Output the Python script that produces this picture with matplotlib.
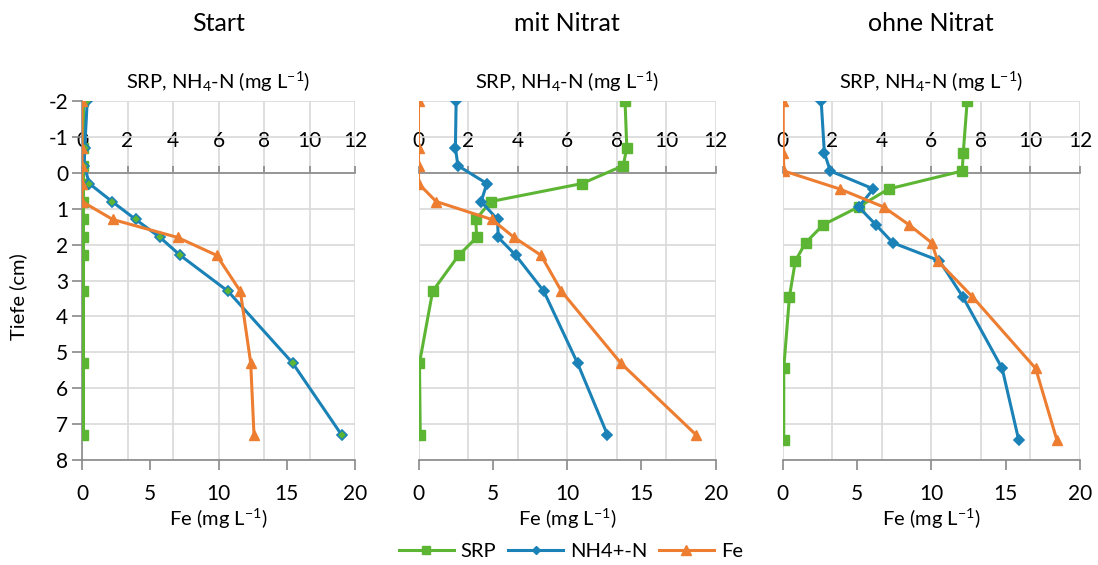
import numpy as np
import matplotlib.pyplot as plt
from matplotlib.lines import Line2D

plt.rcParams['font.family'] = ['Lato', 'DejaVu Sans']
plt.rcParams['mathtext.default'] = 'regular'
plt.rcParams['axes.unicode_minus'] = False

# Depths (cm) per panel
depth_start = [-2, -0.7, -0.2, 0.3, 0.8, 1.3, 1.8, 2.3, 3.3, 5.3, 7.3]
depth_mit = [-2, -0.7, -0.2, 0.3, 0.8, 1.3, 1.8, 2.3, 3.3, 5.3, 7.3]
depth_ohne = [-2, -0.55, -0.05, 0.45, 0.95, 1.45, 1.95, 2.45, 3.45, 5.45, 7.45]

# Start
srp_start = [0.05, 0.05, 0.05, 0.05, 0.05, 0.05, 0.05, 0.05, 0.05, 0.05, 0.05]
nh4_start = [0.23, 0.12, 0.1, 0.32, 1.32, 2.36, 3.43, 4.32, 6.42, 9.26, 11.41]
fe_start = [0.0, 0.0, 0.0, 0.0, 0.0, 2.25, 7.0, 9.87, 11.6, 12.36, 12.6]

# mit Nitrat
srp_mit = [8.34, 8.41, 8.27, 6.6, 2.92, 2.31, 2.35, 1.62, 0.57, 0.04, 0.07]
nh4_mit = [1.52, 1.49, 1.59, 2.76, 2.53, 3.19, 3.22, 3.93, 5.06, 6.42, 7.63]
fe_mit = [0.0, 0.0, 0.0, 0.0, 1.19, 4.93, 6.44, 8.25, 9.62, 13.61, 18.68]

# ohne Nitrat
srp_ohne = [7.45, 7.29, 7.25, 4.28, 3.07, 1.64, 0.93, 0.52, 0.28, 0.05, 0.05]
nh4_ohne = [1.56, 1.69, 1.93, 3.67, 3.07, 3.77, 4.45, 6.33, 7.27, 8.86, 9.53]
fe_ohne = [0.05, 0.05, 0.1, 3.84, 6.79, 8.51, 10.03, 10.43, 12.76, 17.02, 18.45]

titles = ["Start", "mit Nitrat", "ohne Nitrat"]
panels = [
    (depth_start, srp_start, nh4_start, fe_start),
    (depth_mit, srp_mit, nh4_mit, fe_mit),
    (depth_ohne, srp_ohne, nh4_ohne, fe_ohne),
]

c_srp = "#5DB534"
c_nh4 = "#1A82B6"
c_fe = "#ED7D31"
c_axis = "#898989"
c_grid = "#D9D9D9"

W, H = 1098, 565
fig = plt.figure(figsize=(W / 100, H / 100), dpi=100)

lefts = [82, 418.5, 782.5]
rights = [355, 715.7, 1080]
top_px, bot_px = 101, 460

for i, (d, srp, nh4, fe) in enumerate(panels):
    ax = fig.add_axes([lefts[i] / W, 1 - bot_px / H,
                       (rights[i] - lefts[i]) / W, (bot_px - top_px) / H])
    ax2 = ax.twiny()  # Fe axis (bottom)

    ax.set_xlim(0, 12)
    ax.set_ylim(8, -2)
    ax.set_xticks(np.arange(0, 13, 2))
    ax.set_yticks(np.arange(-2, 9, 1))
    ax.grid(True, color=c_grid, linewidth=1.2)
    ax.set_axisbelow(True)

    # top axis sits at depth 0
    ax.xaxis.set_ticks_position('top')
    ax.xaxis.set_label_position('top')
    ax.spines['top'].set_position(('data', 0))
    ax.spines['top'].set_color(c_axis)
    ax.spines['top'].set_linewidth(1.2)
    for s in ['bottom', 'right']:
        ax.spines[s].set_visible(False)
    ax.tick_params(axis='x', direction='out', length=5, width=1.2,
                   color=c_axis, pad=11, labelsize=15)

    if i == 0:
        ax.spines['left'].set_color(c_axis)
        ax.spines['left'].set_linewidth(1.2)
        ax.tick_params(axis='y', direction='out', length=7, width=1.2,
                       color=c_axis, pad=3, labelsize=15)
    else:
        ax.spines['left'].set_visible(False)
        ax.tick_params(axis='y', length=0, labelleft=False)

    nh4_face = c_srp if i == 0 else c_nh4
    ax.plot(srp, d, color=c_srp, lw=2.2, marker='s', ms=7, zorder=3)
    ax.plot(nh4, d, color=c_nh4, lw=2.2, marker='D', ms=5.5,
            mfc=nh4_face, mec=c_nh4, mew=1.2, zorder=4)

    ax2.set_xlim(0, 20)
    ax2.set_xticks(np.arange(0, 21, 5))
    ax2.xaxis.set_ticks_position('bottom')
    ax2.xaxis.set_label_position('bottom')
    for s in ['top', 'left', 'right']:
        ax2.spines[s].set_visible(False)
    ax2.spines['bottom'].set_color(c_axis)
    ax2.spines['bottom'].set_linewidth(1.2)
    ax2.tick_params(axis='x', direction='out', length=7, width=1.2,
                    color=c_axis, pad=10, labelsize=15)
    ax2.plot(fe, d, color=c_fe, lw=2.2, marker='^', ms=7.5, zorder=5)

    ax.text(0.5, 1.052, "SRP, NH$_4$-N (mg L$^{-1}$)", transform=ax.transAxes,
            ha='center', va='center', fontsize=14.5)
    ax.text(0.5, -0.163, "Fe (mg L$^{-1}$)", transform=ax.transAxes,
            ha='center', va='center', fontsize=14.5)
    ax.text(0.5, 1.215, titles[i], transform=ax.transAxes,
            ha='center', va='center', fontsize=18)

fig.text(18 / W, 1 - 297 / H, "Tiefe (cm)", rotation=90, ha='center',
         va='center', fontsize=14.5)

handles = [
    Line2D([], [], color=c_srp, lw=2.2, marker='s', ms=6),
    Line2D([], [], color=c_nh4, lw=2.2, marker='D', ms=4.5),
    Line2D([], [], color=c_fe, lw=2.2, marker='^', ms=6.5),
]
fig.legend(handles, ["SRP", "NH4+-N", "Fe"], loc='center',
           bbox_to_anchor=(571 / W, 1 - 551 / H), ncol=3, frameon=False,
           fontsize=14.5, handlelength=2.7, columnspacing=0.6, handletextpad=0.35)

fig.savefig("out.png", dpi=100)
